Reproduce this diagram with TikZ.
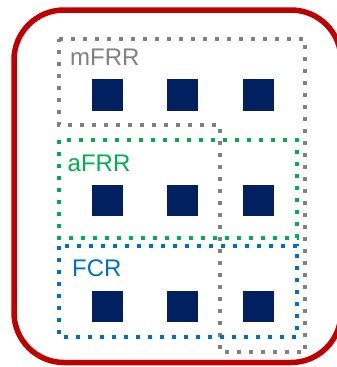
\documentclass[tikz,border=0pt]{standalone}
\usepackage{fontspec}
\setmainfont{Liberation Sans}
\definecolor{frame}{HTML}{C00000}
\definecolor{mgray}{HTML}{808080}
\definecolor{agreen}{HTML}{00B050}
\definecolor{fblue}{HTML}{0070C0}
\definecolor{navy}{HTML}{002060}
\tikzset{
  dotbox/.style={line width=4pt, dash pattern=on 4pt off 8pt},
  sq/.style={fill=navy, minimum size=31.5pt, inner sep=0pt, draw=none},
  lbl/.style={anchor=base west, inner sep=0pt, font=\fontsize{24}{28}\selectfont}
}
\begin{document}
\begin{tikzpicture}[x=1pt,y=-1pt]
\useasboundingbox (0,0) rectangle (337,367);
% outer red frame
\draw[frame, line width=5.5pt, rounded corners=50pt] (14,10) rectangle (341,362.5);
% mFRR (grey L-shape)
\draw[mgray, dotbox] (58.5,39) -- (305,39) -- (305,352) -- (219.5,352) -- (219.5,124.5) -- (58.5,124.5) -- cycle;
% aFRR
\draw[agreen, dotbox] (58.5,140) rectangle (296.5,238);
% FCR
\draw[fblue, dotbox] (58.5,245.5) rectangle (296.5,336.5);
% labels
\node[lbl, text=mgray] (lm) at (70,65) {mFRR};
\node[lbl, text=agreen] (la) at (67.5,171) {aFRR};
\node[lbl, text=fblue] (lf) at (72,276.5) {FCR};
% squares
\foreach \r/\y in {1/95,2/200.5,3/306.5}{
  \foreach \c/\x in {1/107.5,2/182.5,3/258.5}{
    \node[sq] (s\r\c) at (\x,\y) {};
  }
}
\end{tikzpicture}
\end{document}
